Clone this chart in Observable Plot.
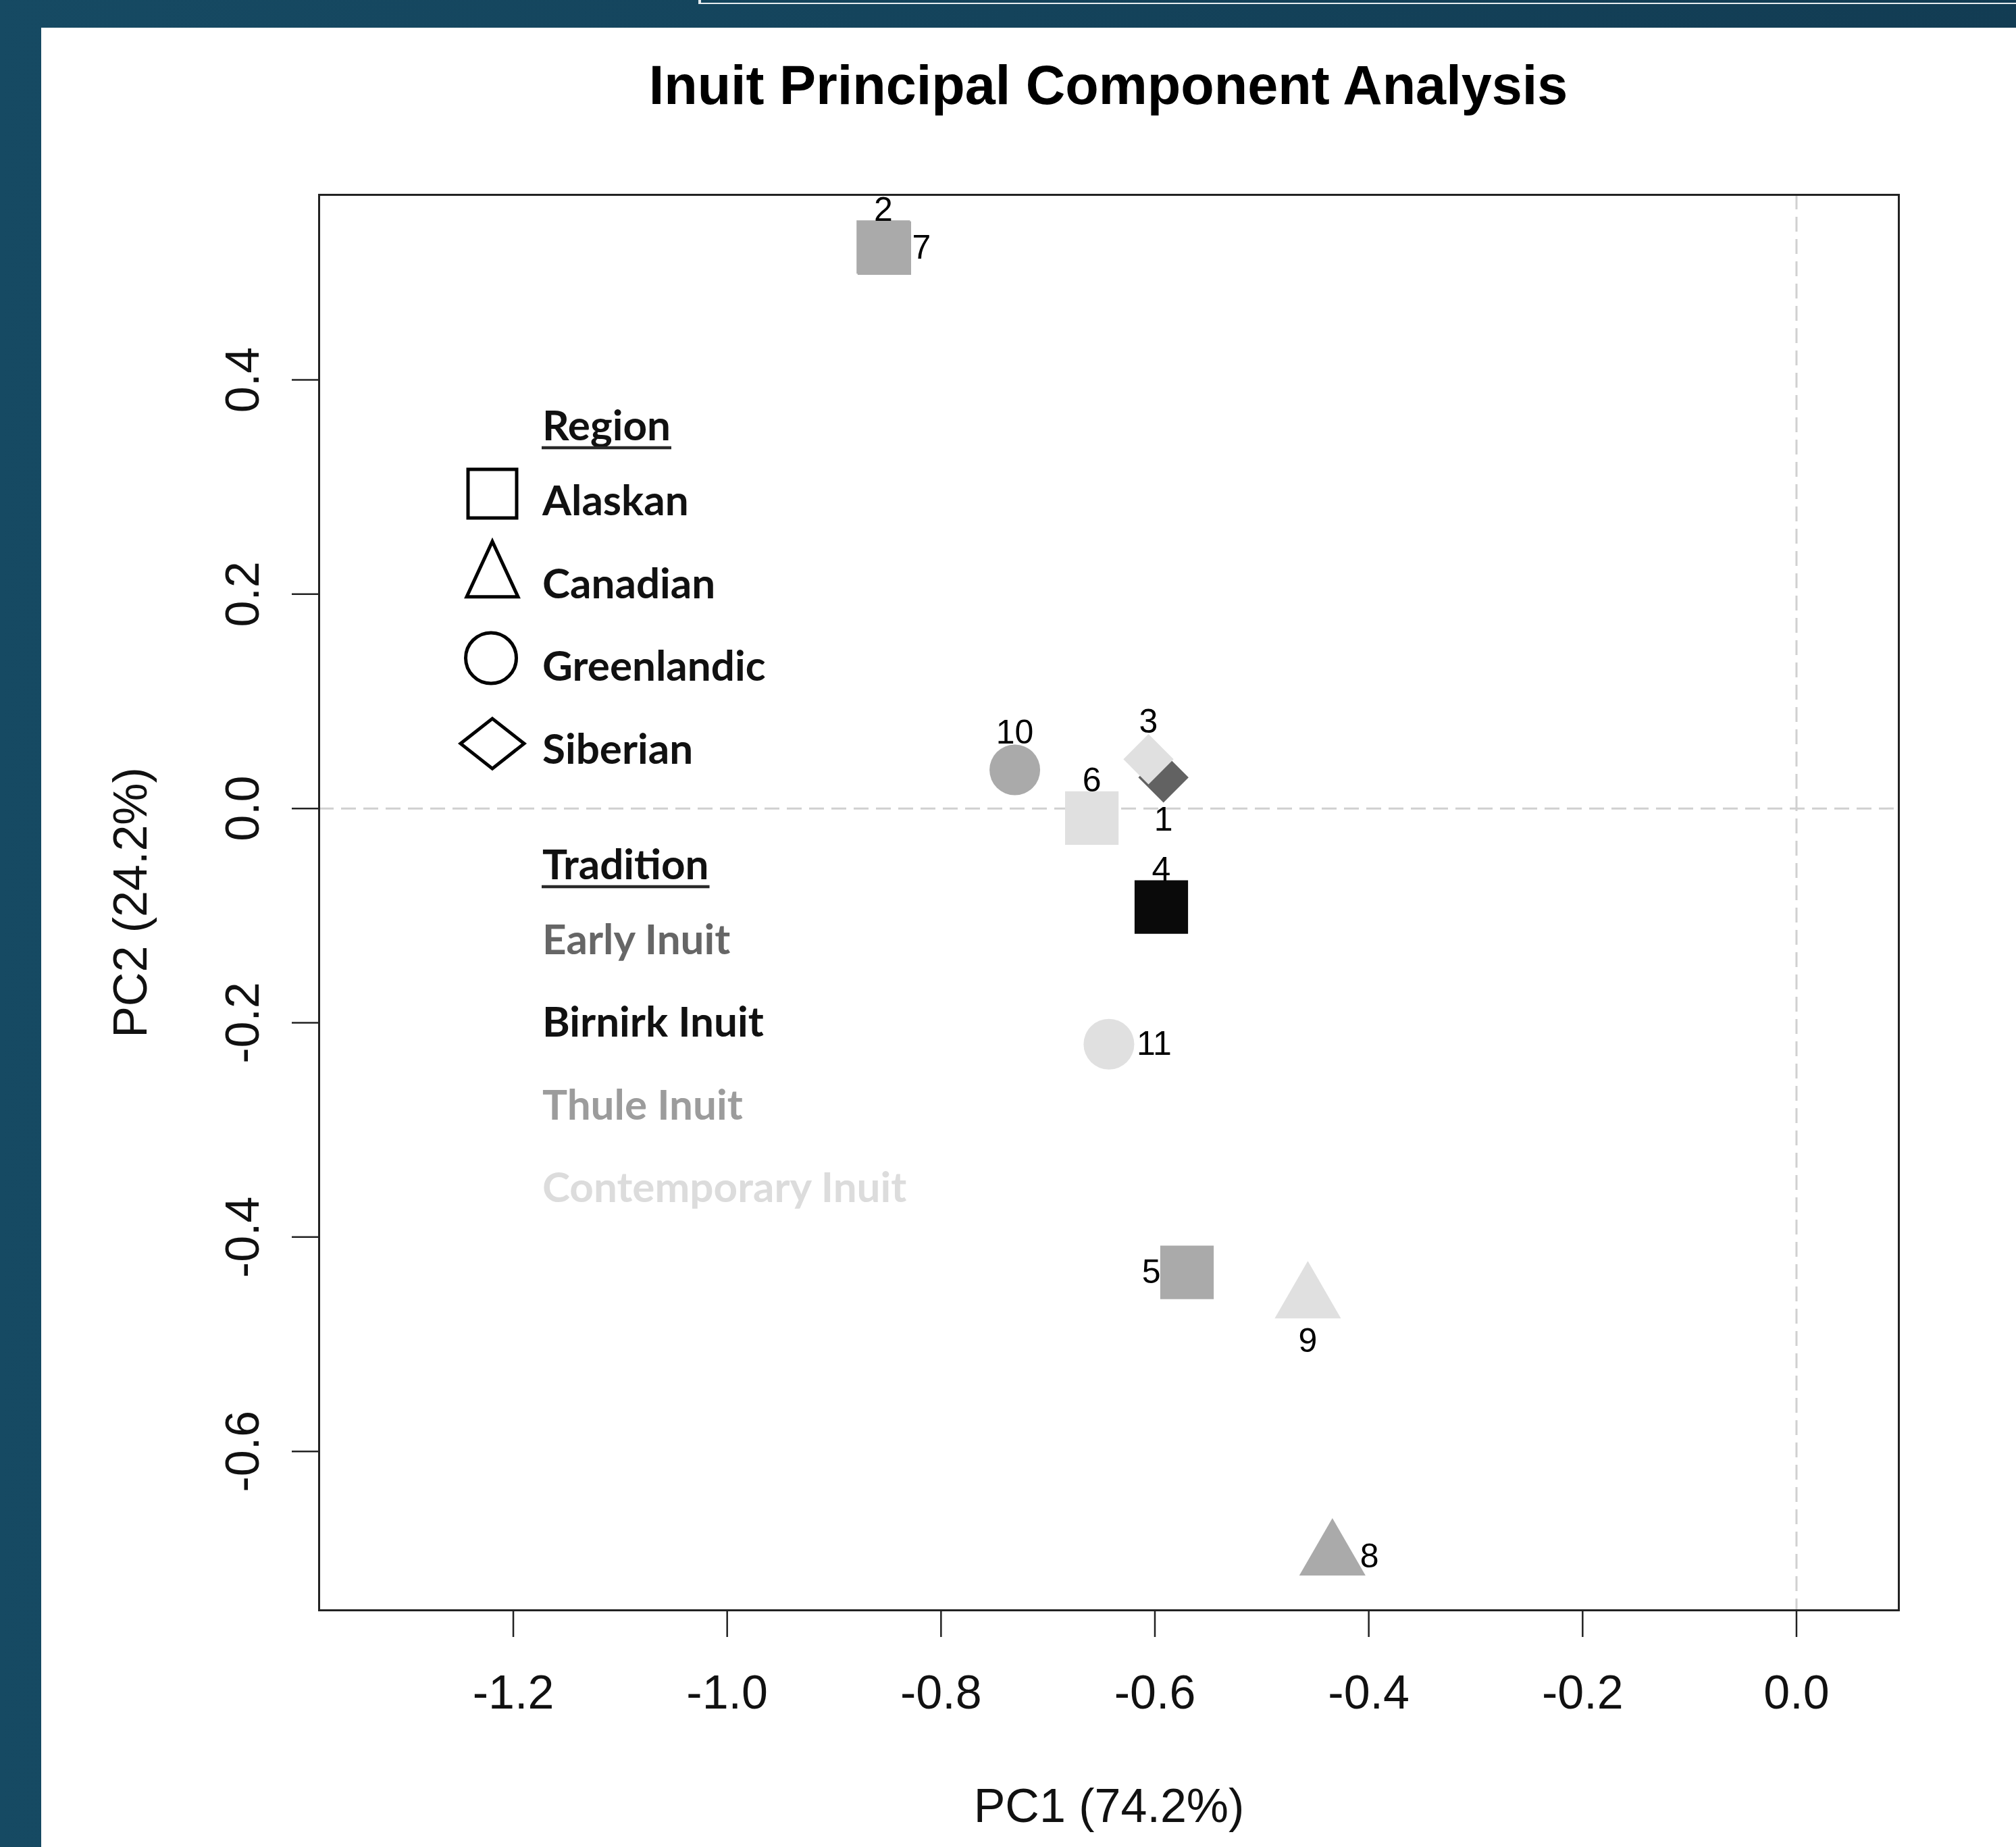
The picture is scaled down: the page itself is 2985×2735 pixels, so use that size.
<!DOCTYPE html>
<html>
<head>
<meta charset="utf-8">
<script src="https://cdn.jsdelivr.net/npm/d3@7"></script>
<script src="https://cdn.jsdelivr.net/npm/@observablehq/plot@0.6"></script>
<style>
  html, body { margin: 0; padding: 0; }
  body { width: 2985px; height: 2735px; position: relative; overflow: hidden;
         background: linear-gradient(90deg, #164a63, #123c53); }
  #panel { position: absolute; left: 61px; top: 41px; right: 0; bottom: 0; background: #fff; }
  #topline { position: absolute; left: 1034px; top: -10px; width: 1960px; height: 14px;
             border-left: 4px solid #e6ecef; border-bottom: 2px solid #e6ecef; }
  #title { position: absolute; left: 641px; width: 2000px; top: 86px; text-align: center;
           font: bold 81px "Liberation Sans", Arial, sans-serif; line-height: 81px; color: #000; }
  #chart { position: absolute; left: 0; top: 0; }
  #legend { position: absolute; left: 0; top: 0; pointer-events: none; }
</style>
</head>
<body>
<div id="panel"></div>
<div id="topline"></div>
<div id="title">Inuit Principal Component Analysis</div>
<div id="chart"></div>
<svg id="legend" width="2985" height="2735"></svg>
<script>
// ---------------- data ----------------
const ids = [1, 2, 3, 4, 5, 6, 7, 8, 9, 10, 11];
const pc1 = [-0.592, -0.854, -0.606, -0.594, -0.570, -0.659, -0.853, -0.434, -0.457, -0.731, -0.643];
const pc2 = [0.029, 0.524, 0.046, -0.092, -0.433, -0.009, 0.523, -0.698, -0.458, 0.036, -0.220];
const region = ["Siberian", "Alaskan", "Siberian", "Alaskan", "Alaskan", "Alaskan", "Alaskan",
                "Canadian", "Canadian", "Greenlandic", "Greenlandic"];
const tradition = ["Early Inuit", "Thule Inuit", "Contemporary Inuit", "Birnirk Inuit", "Thule Inuit",
                   "Contemporary Inuit", "Thule Inuit", "Thule Inuit", "Contemporary Inuit",
                   "Thule Inuit", "Contemporary Inuit"];
const regions = ["Alaskan", "Canadian", "Greenlandic", "Siberian"];
const traditions = ["Early Inuit", "Birnirk Inuit", "Thule Inuit", "Contemporary Inuit"];
const xTicks = [-1.2, -1.0, -0.8, -0.6, -0.4, -0.2, 0.0];
const yTicks = [-0.6, -0.4, -0.2, 0.0, 0.2, 0.4];
const xLabel = "PC1 (74.2%)";
const yLabel = "PC2 (24.2%)";
const legendTitles = ["Region", "Tradition"];

// ---------------- styles ----------------
const labelSide = ["below", "above", "above", "above", "left", "above", "right", "right", "below", "above", "right"];
const traditionColors = ["#626262", "#0a0a0a", "#aaaaaa", "#e0e0e0"];
const legendTextColors = ["#666666", "#111111", "#9c9c9c", "#dcdcdc"];
const R0 = 40;
const squareSym = {draw(c, size) { const h = 0.99 * Math.sqrt(size / Math.PI);
  c.moveTo(-h, -h); c.lineTo(h, -h); c.lineTo(h, h); c.lineTo(-h, h); c.closePath(); }};
const circleSym = {draw(c, size) { const r = 0.9375 * Math.sqrt(size / Math.PI);
  c.moveTo(r, 0); c.arc(0, 0, r, 0, 2 * Math.PI); c.closePath(); }};
const diamondSym = {draw(c, size) { const h = 0.93 * Math.sqrt(size / Math.PI);
  c.moveTo(0, -h); c.lineTo(h, 0); c.lineTo(0, h); c.lineTo(-h, 0); c.closePath(); }};
const triangleSym = {draw(c, size) { const k = 0.708 * Math.sqrt(size / Math.PI);
  c.moveTo(0, -2 * k); c.lineTo(Math.sqrt(3) * k, k); c.lineTo(-Math.sqrt(3) * k, k); c.closePath(); }};
const regionSymbols = [squareSym, triangleSym, circleSym, diamondSym];

const pts = ids.map((id, i) => ({id, x: pc1[i], y: pc2[i], region: region[i], tradition: tradition[i], side: labelSide[i]}));
const sideOpts = {
  above: {lineAnchor: "bottom", dy: -39},
  below: {lineAnchor: "top", dy: 43},
  left: {textAnchor: "end", dx: -39},
  right: {textAnchor: "start", dx: 41}
};
const fmt = d => d.toFixed(1);
const dash = {stroke: "#d0d0d0", strokeWidth: 3, strokeDasharray: "22,11"};

const chart = Plot.plot({
  width: 2985,
  height: 2735,
  marginLeft: 472,
  marginRight: 174,
  marginTop: 288,
  marginBottom: 351,
  style: {background: "transparent", fontFamily: '"Liberation Sans", Arial, sans-serif', fontSize: "70px", overflow: "visible", color: "#111"},
  x: {domain: [-1.3816, 0.0957]},
  y: {domain: [-0.7483, 0.5727]},
  symbol: {domain: regions, range: regionSymbols, legend: false},
  color: {domain: traditions, range: traditionColors, legend: false},
  marks: [
    Plot.ruleY([0], dash),
    Plot.ruleX([0], dash),
    Plot.dot(pts, {x: "x", y: "y", symbol: "region", fill: "tradition", r: R0, stroke: "none"}),
    ...Object.keys(sideOpts).map(s =>
      Plot.text(pts.filter(d => d.side === s), {x: "x", y: "y", text: d => String(d.id), fontSize: 50, fill: "#000", ...sideOpts[s]})),
    Plot.axisX({ticks: xTicks, tickFormat: fmt, tickSize: 40, tickPadding: 56, label: null, stroke: "#222", strokeWidth: 2.5, fill: "#111"}),
    Plot.axisY({ticks: yTicks, tickFormat: fmt, tickSize: 40, tickPadding: 50, tickRotate: -90, label: null, stroke: "#222", strokeWidth: 2.5, fill: "#111"}),
    Plot.text([xLabel], {frameAnchor: "bottom", text: d => d, lineAnchor: "bottom", dy: 313, fontSize: 70, fill: "#111"}),
    Plot.text([yLabel], {frameAnchor: "left", text: d => d, rotate: -90, textAnchor: "middle", lineAnchor: "bottom", dx: -256, fontSize: 70, fill: "#111"}),
    Plot.frame({stroke: "#222", strokeWidth: 3})
  ]
});
document.getElementById("chart").appendChild(chart);

// ---------------- legend ----------------
const lg = d3.select("#legend");
const LX = 803, SX = 729, LFS = 62;
const legendFont = "Lato, 'Open Sans', sans-serif";
function header(txt, base) {
  const t = lg.append("text").attr("x", LX).attr("y", base).text(txt)
    .attr("font-family", legendFont).attr("font-weight", 700).attr("font-size", LFS).attr("fill", "#111");
  const w = t.node().getComputedTextLength();
  lg.append("line").attr("x1", LX - 1).attr("x2", LX + w + 1).attr("y1", base + 11).attr("y2", base + 11)
    .attr("stroke", "#2a2a2a").attr("stroke-width", 4.5);
}
const glyphs = {
  Alaskan: b => `M${SX - 36},${b - 68}H${SX + 36}V${b + 4}H${SX - 36}Z`,
  Canadian: b => `M${SX},${b - 84}L${SX + 38},${b - 2}H${SX - 38}Z`,
  Greenlandic: b => `M${SX - 2 + 37.5},${b - 34}A37.5,37.5 0 1,1 ${SX - 2 - 37.5},${b - 34}A37.5,37.5 0 1,1 ${SX - 2 + 37.5},${b - 34}Z`,
  Siberian: b => `M${SX},${b - 67}L${SX + 47},${b - 30}L${SX},${b + 7}L${SX - 47},${b - 30}Z`
};
header(legendTitles[0], 652);
regions.forEach((r, i) => {
  const b = 763 + i * 122.7;
  lg.append("path").attr("d", glyphs[r](b)).attr("fill", "none").attr("stroke", "#000").attr("stroke-width", 5);
  lg.append("text").attr("x", LX).attr("y", b).text(r)
    .attr("font-family", legendFont).attr("font-weight", 700).attr("font-size", LFS).attr("fill", "#111");
});
header(legendTitles[1], 1302);
traditions.forEach((t, i) => {
  const b = 1413 + i * 122.4;
  lg.append("text").attr("x", LX).attr("y", b).text(t)
    .attr("font-family", legendFont).attr("font-weight", 700).attr("font-size", LFS).attr("fill", legendTextColors[i]);
});
</script>
</body>
</html>
